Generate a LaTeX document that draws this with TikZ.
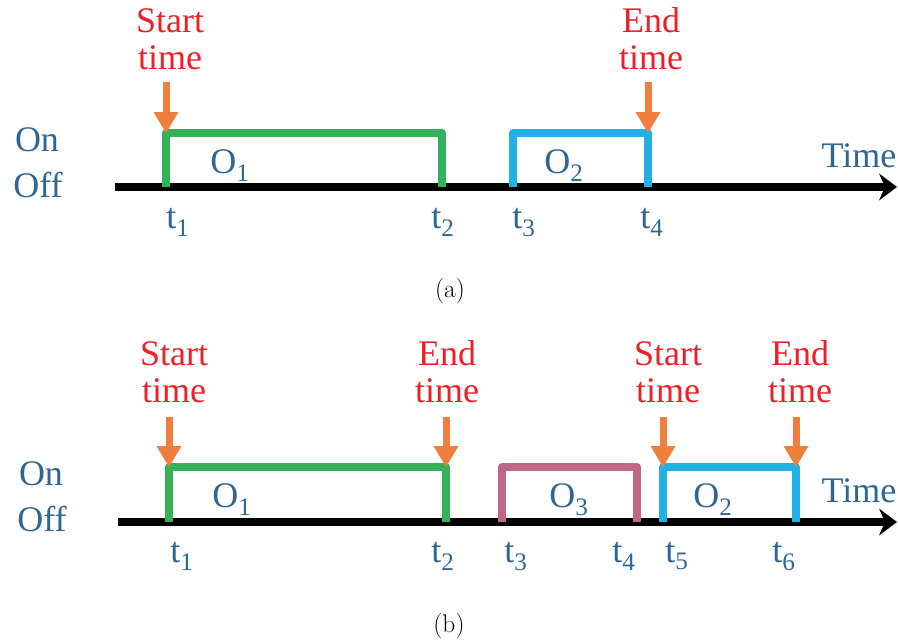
\documentclass[tikz,border=0pt]{standalone}
\usepackage{fontspec}
\newfontfamily\slidefont{Liberation Serif}
\usetikzlibrary{arrows.meta}

\definecolor{evtred}{RGB}{236,32,38}
\definecolor{evtorange}{RGB}{240,126,60}
\definecolor{lblblue}{RGB}{46,102,148}
\definecolor{pgreen}{RGB}{52,178,90}
\definecolor{pblue}{RGB}{34,176,230}
\definecolor{ppink}{RGB}{192,102,136}

\begin{document}
\begin{tikzpicture}[x=1pt,y=1pt,yscale=-1,
  axis/.style={line width=8pt,-{Stealth[length=18pt,width=27pt,inset=6pt,line width=0pt]}},
  pulse/.style={line width=7.5pt,line join=round},
  evt/.style={draw=evtorange,line width=7pt,-{Triangle[length=21pt,width=25pt,line width=0pt]}},
  lbl/.style={inner sep=0pt,anchor=base,text=lblblue,font=\fontsize{36}{37}\slidefont},
  evtlbl/.style={inner sep=0pt,anchor=south,text depth=0pt,align=center,text=evtred,font=\fontsize{36}{37}\slidefont},
  sublbl/.style={inner sep=0pt,anchor=base,font=\fontsize{25.5}{30}\selectfont}]
\useasboundingbox (0,0) rectangle (898,643);

% ---------- (a) ----------
%Time axis
\draw [axis] (115,187) -- (897,187);
%Pulse O1
\coordinate (a-s1) at (166,133);
\coordinate (a-e1) at (442,133);
\draw [pulse,draw=pgreen] (166,187) -- (a-s1) -- (a-e1) -- (442,187);
%Pulse O2
\coordinate (a-s2) at (513,133);
\coordinate (a-e2) at (648,133);
\draw [pulse,draw=pblue] (513,187) -- (a-s2) -- (a-e2) -- (648,187);
%Start / end marks
\node [evtlbl] (a-start) at (170,70) {Start\\time};
\node [evtlbl] (a-end) at (651,70) {End\\time};
\draw [evt] (a-s1) ++(0,-51) -- (a-s1);
\draw [evt] (a-e2) ++(0,-51) -- (a-e2);
% Text Node
\node [lbl] (a-on) at (37,151) {On};
\node [lbl] (a-off) at (38,197) {Off};
\node [lbl] (a-time) at (859,167) {Time};
\node [lbl] (a-o1) at (230,173) {O\textsubscript{1}};
\node [lbl] (a-o2) at (564,173) {O\textsubscript{2}};
\node [lbl] (a-t1) at (178,228) {t\textsubscript{1}};
\node [lbl] (a-t2) at (443,228) {t\textsubscript{2}};
\node [lbl] (a-t3) at (524,228) {t\textsubscript{3}};
\node [lbl] (a-t4) at (652,228) {t\textsubscript{4}};
\node [sublbl] (a-cap) at (450,297) {(a)};

% ---------- (b) ----------
%Time axis
\draw [axis] (118,522) -- (897,522);
%Pulse O1
\coordinate (b-s1) at (169,467);
\coordinate (b-e1) at (446,467);
\draw [pulse,draw=pgreen] (169,522) -- (b-s1) -- (b-e1) -- (446,522);
%Pulse O3
\coordinate (b-s3) at (502,467);
\coordinate (b-e3) at (637,467);
\draw [pulse,draw=ppink] (502,522) -- (b-s3) -- (b-e3) -- (637,522);
%Pulse O2
\coordinate (b-s2) at (663,467);
\coordinate (b-e2) at (796,467);
\draw [pulse,draw=pblue] (663,522) -- (b-s2) -- (b-e2) -- (796,522);
%Start / end marks
\node [evtlbl] (b-start1) at (174,403) {Start\\time};
\node [evtlbl] (b-end1) at (447,403) {End\\time};
\node [evtlbl] (b-start2) at (668,403) {Start\\time};
\node [evtlbl] (b-end2) at (800,403) {End\\time};
\draw [evt] (b-s1) ++(0,-50) -- (b-s1);
\draw [evt] (b-e1) ++(0,-50) -- (b-e1);
\draw [evt] (b-s2) ++(0,-50) -- (b-s2);
\draw [evt] (b-e2) ++(0,-50) -- (b-e2);
% Text Node
\node [lbl] (b-on) at (41,485) {On};
\node [lbl] (b-off) at (42,531) {Off};
\node [lbl] (b-time) at (859,502) {Time};
\node [lbl] (b-o1) at (232,507) {O\textsubscript{1}};
\node [lbl] (b-o3) at (569,507) {O\textsubscript{3}};
\node [lbl] (b-o2) at (713,507) {O\textsubscript{2}};
\node [lbl] (b-t1) at (182,562) {t\textsubscript{1}};
\node [lbl] (b-t2) at (443,562) {t\textsubscript{2}};
\node [lbl] (b-t3) at (516,562) {t\textsubscript{3}};
\node [lbl] (b-t4) at (624,562) {t\textsubscript{4}};
\node [lbl] (b-t5) at (677,562) {t\textsubscript{5}};
\node [lbl] (b-t6) at (784,562) {t\textsubscript{6}};
\node [sublbl] (b-cap) at (449,632) {(b)};
\end{tikzpicture}
\end{document}
